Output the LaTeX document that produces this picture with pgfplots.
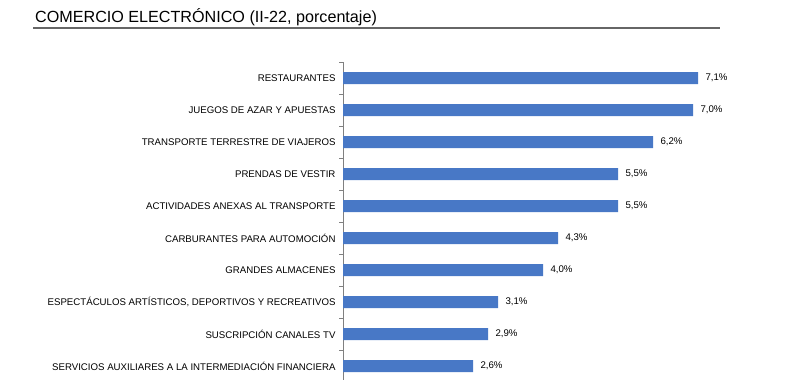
\documentclass[border=0pt]{standalone}
\usepackage{pgfplots}
\pgfplotsset{compat=1.18}
\usepackage{fontspec}
\setmainfont{Liberation Sans}
\definecolor{barblue}{HTML}{4878C6}
\begin{document}
\begin{tikzpicture}[x=1bp,y=1bp]
\path[use as bounding box] (0,0) rectangle (800,380);
\node[anchor=base west, inner sep=0pt, font=\fontsize{16.2}{19}\selectfont] at (35,358) {COMERCIO ELECTRÓNICO (II-22, porcentaje)};
\draw[gray!80!black, line width=1.2bp] (33,352) -- (720,352);
\begin{axis}[
  at={(343bp,318bp)}, anchor=north west,
  scale only axis,
  width=375bp, height=318bp,
  xmin=0, xmax=7.5,
  ymin=-0.5, ymax=9.4375,
  y dir=reverse,
  axis x line=none,
  axis y line*=left,
  y axis line style={gray, line width=0.8bp},
  xbar, bar width=12bp,
  ytick={0,...,9},
  yticklabels={RESTAURANTES,JUEGOS DE AZAR Y APUESTAS,TRANSPORTE TERRESTRE DE VIAJEROS,PRENDAS DE VESTIR,ACTIVIDADES ANEXAS AL TRANSPORTE,CARBURANTES PARA AUTOMOCIÓN,GRANDES ALMACENES,{ESPECTÁCULOS ARTÍSTICOS, DEPORTIVOS Y RECREATIVOS},SUSCRIPCIÓN CANALES TV,SERVICIOS AUXILIARES A LA INTERMEDIACIÓN FINANCIERA},
  major tick length=0pt,
  minor ytick={-0.5,0.5,...,8.5},
  minor tick length=4bp,
  tick align=outside,
  minor tick style={gray, line width=0.8bp},
  yticklabel style={font=\fontsize{9.7}{11}\selectfont, xshift=-4bp},
  /pgf/number format/assume math mode=true,
  point meta=x,
  nodes near coords={\pgfmathprintnumber[fixed,fixed zerofill,precision=1,use comma,assume math mode=true]{\pgfplotspointmeta}\%},
  nodes near coords style={font=\fontsize{9.7}{11}\selectfont, xshift=4bp},
  clip=false,
]
\addplot[fill=barblue, draw=none] coordinates {
(7.1,0) (7.0,1) (6.2,2) (5.5,3) (5.5,4) (4.3,5) (4.0,6) (3.1,7) (2.9,8) (2.6,9)
};
\end{axis}
\end{tikzpicture}
\end{document}
